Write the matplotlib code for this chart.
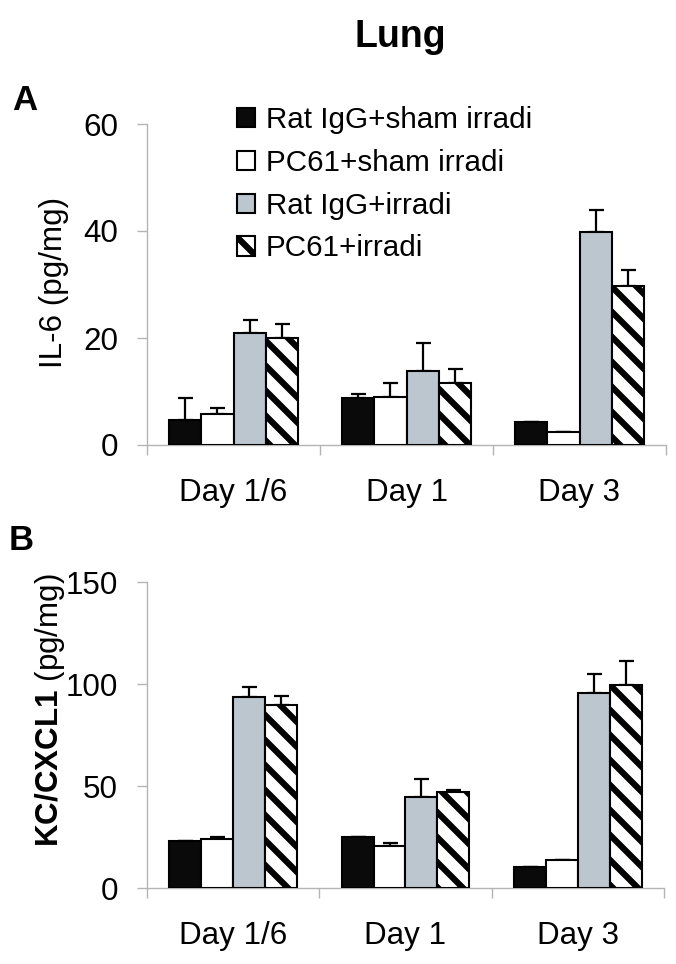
import numpy as np
import matplotlib
matplotlib.use("Agg")
import matplotlib.pyplot as plt
import matplotlib.hatch as mhatch

# ---------------- data ----------------
days = ["Day 1/6", "Day 1", "Day 3"]
groups = ["Rat IgG+sham irradi", "PC61+sham irradi", "Rat IgG+irradi", "PC61+irradi"]

il6_ratigg_sham = [4.7, 8.8, 4.3]
il6_pc61_sham = [5.8, 8.9, 2.4]
il6_ratigg_irr = [21.0, 13.8, 39.8]
il6_pc61_irr = [20.0, 11.6, 29.8]
il6_err_ratigg_sham = [4.1, 0.7, 0.0]
il6_err_pc61_sham = [1.2, 2.6, 0.0]
il6_err_ratigg_irr = [2.3, 5.3, 4.1]
il6_err_pc61_irr = [2.6, 2.6, 3.0]

kc_ratigg_sham = [23.0, 25.0, 10.3]
kc_pc61_sham = [24.0, 20.7, 13.8]
kc_ratigg_irr = [93.6, 44.6, 95.6]
kc_pc61_irr = [89.7, 47.1, 99.5]
kc_err_ratigg_sham = [0.0, 0.0, 0.0]
kc_err_pc61_sham = [1.0, 1.4, 0.0]
kc_err_ratigg_irr = [4.9, 8.8, 9.3]
kc_err_pc61_irr = [4.4, 0.9, 11.8]

# ------------- custom-spaced "\" hatch -------------
class WideSouthEastHatch(mhatch.SouthEastHatch):
    def __init__(self, hatch, density):
        n = hatch.count('\\')
        self.num_lines = 8 * n
        self.num_vertices = (self.num_lines + 1) * 2 if self.num_lines else 0

mhatch._hatch_types = [WideSouthEastHatch if t is mhatch.SouthEastHatch else t
                       for t in mhatch._hatch_types]

plt.rcParams['font.family'] = ['Liberation Sans', 'DejaVu Sans']
plt.rcParams['mathtext.fontset'] = 'custom'
plt.rcParams['mathtext.rm'] = 'Liberation Sans'
plt.rcParams['mathtext.bf'] = 'Liberation Sans:bold'
plt.rcParams['hatch.linewidth'] = 4.5
plt.rcParams['hatch.color'] = 'black'

W, H = 676, 964
fig = plt.figure(figsize=(W / 100, H / 100), dpi=100)
fig.patch.set_facecolor('white')

def fx(px):
    return px / W

def fy(py):
    return 1 - py / H

styles = [
    dict(facecolor='#0a0a0a', edgecolor='black', hatch=None),
    dict(facecolor='white', edgecolor='black', hatch=None),
    dict(facecolor='#bcc6cf', edgecolor='black', hatch=None),
    dict(facecolor='white', edgecolor='black', hatch='\\'),
]
GRAY = '#b4b4b4'
TICK_FS = 22.6
BW = 0.185


def draw_panel(ax, series, errs, ymax, yticks):
    x = np.arange(len(days))
    offs = (np.arange(4) - 1.5) * BW
    for i, (vals, err, st) in enumerate(zip(series, errs, styles)):
        ax.bar(x + offs[i], vals, width=BW, label=groups[i], linewidth=1.5,
               zorder=3, **st)
        e = np.array(err)
        ax.errorbar(x + offs[i], vals, yerr=[np.zeros_like(e), e], fmt='none',
                    ecolor='black', elinewidth=1.6, capsize=5.4, capthick=1.6,
                    zorder=2)
    ax.set_xlim(-0.5, len(days) - 0.5)
    ax.set_ylim(0, ymax)
    ax.set_yticks(yticks)
    ax.set_xticks(x)
    ax.set_xticklabels(days)
    ax.set_xticks(np.arange(len(days) + 1) - 0.5, minor=True)
    ax.tick_params(axis='x', which='major', length=0, pad=24, labelsize=TICK_FS)
    ax.tick_params(axis='x', which='minor', length=7.2, width=1, color=GRAY)
    ax.tick_params(axis='y', length=7.2, width=1, color=GRAY, pad=13.7,
                   labelsize=TICK_FS)
    for s in ['top', 'right']:
        ax.spines[s].set_visible(False)
    for s in ['left', 'bottom']:
        ax.spines[s].set_color(GRAY)
        ax.spines[s].set_linewidth(1)


axA = fig.add_axes([fx(147), fy(445), (666 - 147) / W, (445 - 124) / H])
draw_panel(axA,
           [il6_ratigg_sham, il6_pc61_sham, il6_ratigg_irr, il6_pc61_irr],
           [il6_err_ratigg_sham, il6_err_pc61_sham, il6_err_ratigg_irr, il6_err_pc61_irr],
           60, [0, 20, 40, 60])
axA.set_ylabel('IL-6 (pg/mg)', fontsize=22.6)
axA.yaxis.set_label_coords(-0.150, 0.505)

axB = fig.add_axes([fx(147), fy(888), (664 - 147) / W, (888 - 582) / H])
draw_panel(axB,
           [kc_ratigg_sham, kc_pc61_sham, kc_ratigg_irr, kc_pc61_irr],
           [kc_err_ratigg_sham, kc_err_pc61_sham, kc_err_ratigg_irr, kc_err_pc61_irr],
           150, [0, 50, 100, 150])
axB.set_ylabel(r'$\mathbf{KC/CXCL1}$ (pg/mg)', fontsize=22.6)
axB.yaxis.set_label_coords(-0.155, 0.58)

handles, labels = axA.get_legend_handles_labels()
fig.legend(handles, labels, loc='upper left',
           bbox_to_anchor=(fx(237), fy(106)), bbox_transform=fig.transFigure,
           frameon=False, fontsize=21.3, handlelength=0.62, handleheight=0.62,
           handletextpad=0.35, labelspacing=0.5, borderpad=0, borderaxespad=0)

fig.text(fx(400), fy(37), 'Lung', fontsize=27, fontweight='bold',
         ha='center', va='center')
fig.text(fx(25), fy(100), 'A', fontsize=25, fontweight='bold',
         ha='center', va='center')
fig.text(fx(21), fy(541), 'B', fontsize=25, fontweight='bold',
         ha='center', va='center')

fig.savefig('out.png', dpi=100, facecolor='white')
